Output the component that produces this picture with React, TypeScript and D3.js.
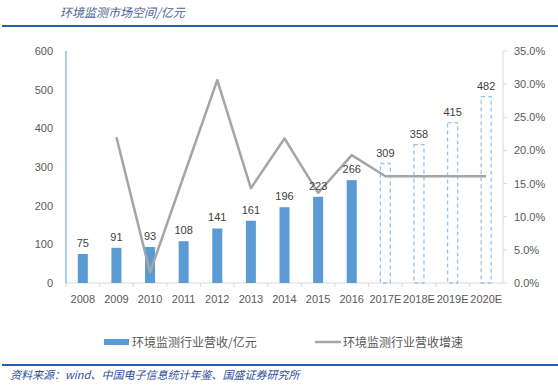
import React from 'react';
import * as d3 from 'd3';

const years = ['2008', '2009', '2010', '2011', '2012', '2013', '2014', '2015', '2016', '2017E', '2018E', '2019E', '2020E'];
const revenue = [75, 91, 93, 108, 141, 161, 196, 223, 266, 309, 358, 415, 482];
const growth = [null, 22.0, 1.6, 16.1, 30.6, 14.3, 21.8, 13.6, 19.3, 16.1, 16.1, 16.1, 16.1];
const forecast = [false, false, false, false, false, false, false, false, false, true, true, true, true];
const leftTicks = [0, 100, 200, 300, 400, 500, 600];
const rightTicks = [0, 5, 10, 15, 20, 25, 30, 35];

const W = 558;
const H = 388;
const margin = { top: 51, right: 55, bottom: 105, left: 66 };

export default function App() {
	const x = d3.scaleBand<string>()
		.domain(years)
		.range([margin.left, W - margin.right]);
	const y = d3.scaleLinear().domain([0, 600]).range([H - margin.bottom, margin.top]);
	const y2 = d3.scaleLinear().domain([0, 35]).range([H - margin.bottom, margin.top]);

	const barW = 10;
	const font = "'Liberation Sans', 'Noto Sans CJK SC', sans-serif";
	const cjk = "'Noto Sans CJK SC', sans-serif";
	const x0 = margin.left;
	const x1 = W - margin.right;
	const yb = H - margin.bottom;

	const line = d3.line<number | null>()
		.defined(d => d !== null)
		.x((d, i) => (x(years[i]) as number) + x.bandwidth() / 2)
		.y(d => y2(d as number));

	return (
		<svg width={W} height={H} style={{ position: 'absolute', left: 0, top: 0, background: '#fff' }}>
			<text x={60} y={17} fontSize={12} fontStyle="italic" fill="#4b5f95" fontFamily={cjk}>环境监测市场空间/亿元</text>
			<line x1={2} x2={W} y1={26} y2={26} stroke="#2a5db0" strokeWidth={2} />

			{/* x axis */}
			<line x1={x0} x2={x1} y1={yb} y2={yb} stroke="#d9d9d9" />
			{years.map((c, i) => (
				<line key={'t' + c} x1={x(c) as number} x2={x(c) as number} y1={yb} y2={yb + 4} stroke="#d9d9d9" />
			))}
			{years.map(c => (
				<text key={'l' + c} x={(x(c) as number) + x.bandwidth() / 2} y={yb + 20} fontSize={11} fill="#595959" textAnchor="middle" fontFamily={font}>{c}</text>
			))}

			{/* left axis */}
			<line x1={x0} x2={x0} y1={margin.top} y2={yb} stroke="#5b9bd5" />
			{leftTicks.map(t => (
				<text key={'y' + t} x={53} y={y(t) + 4} fontSize={11} fill="#595959" textAnchor="end" fontFamily={font}>{t}</text>
			))}

			{/* right axis */}
			<line x1={x1} x2={x1} y1={margin.top} y2={yb} stroke="#d9d9d9" />
			{rightTicks.map(t => (
				<g key={'r' + t}>
					<line x1={x1} x2={x1 + 4} y1={y2(t)} y2={y2(t)} stroke="#d9d9d9" />
					<text x={514} y={y2(t) + 4} fontSize={11} fill="#595959" fontFamily={font}>{t.toFixed(1) + '%'}</text>
				</g>
			))}

			{/* bars */}
			{revenue.map((v, i) => {
				const cx = (x(years[i]) as number) + x.bandwidth() / 2;
				return forecast[i] ? (
					<rect key={'b' + i} x={cx - barW / 2} y={y(v)} width={barW} height={yb - y(v)}
						fill="none" stroke="#9dc3e6" strokeWidth={1.3} strokeDasharray="4,3" />
				) : (
					<rect key={'b' + i} x={cx - barW / 2} y={y(v)} width={barW} height={yb - y(v)} fill="#5b9bd5" />
				);
			})}

			{/* growth line */}
			<path d={line(growth) || ''} fill="none" stroke="#a5a5a5" strokeWidth={2.5} strokeLinejoin="round" />

			{/* labels */}
			{revenue.map((v, i) => (
				<text key={'v' + i} x={(x(years[i]) as number) + x.bandwidth() / 2} y={y(v) - 7} fontSize={11} fill="#404040" textAnchor="middle" fontFamily={font}>{v}</text>
			))}

			{/* legend */}
			<rect x={104} y={339} width={25} height={6} fill="#5b9bd5" />
			<text x={132} y={347} fontSize={12} fill="#595959" fontFamily={cjk}>环境监测行业营收/亿元</text>
			<line x1={315} x2={341} y1={342} y2={342} stroke="#a5a5a5" strokeWidth={2.5} />
			<text x={343} y={347} fontSize={12} fill="#595959" fontFamily={cjk}>环境监测行业营收增速</text>

			<line x1={2} x2={W} y1={365} y2={365} stroke="#2a5db0" strokeWidth={2} />
			<text x={10} y={379} fontSize={11} fontStyle="italic" fill="#2f4f9e" fontFamily={cjk}>资料来源：wind、中国电子信息统计年鉴、国盛证券研究所</text>
		</svg>
	);
}
